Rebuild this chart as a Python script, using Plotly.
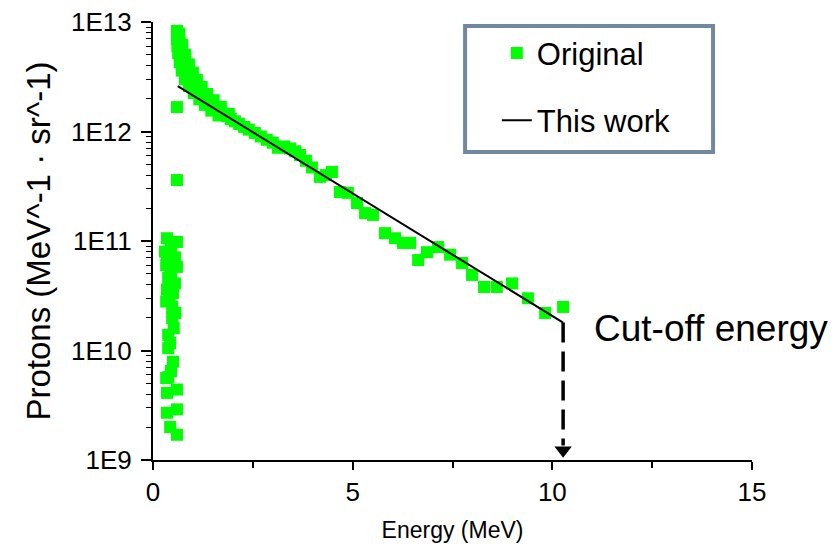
import plotly.graph_objects as go

# ---- data ----
orig_energy = [
    # main band
    0.60, 0.61, 0.62, 0.64, 0.66, 0.68, 0.70, 0.73, 0.76, 0.79, 0.83, 0.87, 0.91, 0.96,
    1.01, 1.06, 1.12, 1.18, 1.25, 1.32, 1.40, 1.48, 1.57, 1.66, 1.75, 1.85, 1.95, 2.05,
    2.16, 2.28, 2.40, 2.55, 2.70, 2.85, 3.00, 3.13, 3.28, 3.43, 3.56, 3.68, 3.83, 3.98,
    4.18, 4.33, 4.48, 4.68, 4.88, 5.11, 5.31, 5.51, 5.81, 6.06, 6.26, 6.44, 6.64, 6.86,
    7.14, 7.44, 7.74, 7.99, 8.29, 8.61, 8.99, 9.39, 9.82, 10.27,
    # outer / inner edges of the dense band
    0.66, 0.73, 0.81, 0.90, 1.00, 1.10, 1.22, 1.36, 1.52, 1.70, 1.90,
    0.60, 0.61, 0.63, 0.67, 0.72, 0.80, 0.90, 1.02, 1.16, 1.30, 1.46, 1.64,
    # low-energy column
    0.60, 0.60,
    0.35, 0.60, 0.35, 0.55, 0.33, 0.60, 0.38, 0.55, 0.35, 0.50, 0.33, 0.48, 0.48, 0.38,
    0.43, 0.38, 0.50, 0.38, 0.33, 0.35, 0.60, 0.35, 0.60, 0.43, 0.60,
    0.45, 0.45, 0.42, 0.52, 0.45, 0.30, 0.56,
]
orig_protons = [
    8.3e12, 7.8e12, 7.3e12, 6.8e12, 6.3e12, 5.9e12, 5.5e12, 5.1e12, 4.7e12, 4.35e12, 4.0e12, 3.7e12, 3.4e12, 3.1e12,
    2.85e12, 2.6e12, 2.4e12, 2.2e12, 2.05e12, 1.93e12, 1.8e12, 1.7e12, 1.6e12, 1.52e12, 1.45e12, 1.38e12, 1.3e12, 1.24e12,
    1.17e12, 1.1e12, 1.04e12, 9.7e11, 9.0e11, 8.4e11, 7.9e11, 7.1e11, 7.3e11, 7.0e11, 6.6e11, 6.1e11, 5.4e11, 4.7e11,
    3.85e11, 4.0e11, 4.27e11, 2.8e11, 2.75e11, 2.22e11, 1.8e11, 1.73e11, 1.18e11, 1.06e11, 9.6e10, 9.6e10, 6.7e10, 7.9e10,
    8.8e10, 7.5e10, 6.3e10, 4.9e10, 3.8e10, 3.8e10, 4.1e10, 3.0e10, 2.2e10, 2.5e10,
    7.8e12, 6.2e12, 5.0e12, 4.1e12, 3.45e12, 2.95e12, 2.55e12, 2.2e12, 1.93e12, 1.68e12, 1.45e12,
    7.0e12, 6.0e12, 5.2e12, 4.3e12, 3.6e12, 3.0e12, 2.6e12, 2.25e12, 1.97e12, 1.75e12, 1.55e12, 1.4e12,
    1.67e12, 3.6e11,
    1.06e11, 9.8e10, 7.4e10, 7.1e10, 6.0e10, 5.8e10, 4.6e10, 4.1e10, 3.6e10, 3.35e10, 2.8e10, 2.5e10, 1.98e10, 1.39e10,
    1.17e10, 1.05e10, 7.9e9, 5.7e9, 5.6e9, 4.1e9, 4.4e9, 2.7e9, 2.9e9, 2.0e9, 1.7e9,
    8.5e10, 5.0e10, 3.0e10, 1.6e10, 6.5e9, 8.0e10, 2.2e10,
]

fit_energy = [0.62, 10.27]
fit_protons = [2.6e12, 1.8e10]

cutoff_energy = 10.27
cutoff_protons = 1.8e10
arrow_tip_protons = 1.23e9

y_tick_vals = [1e9, 1e10, 1e11, 1e12, 1e13]
y_tick_text = ["1E9", "1E10", "1E11", "1E12", "1E13"]
x_tick_vals = [0, 5, 10, 15]
x_minor_vals = [2.5, 7.5, 12.5]
y_minor_vals = [m * d for d in [1e9, 1e10, 1e11, 1e12] for m in range(2, 10)]

FONT = "Arial, Liberation Sans, sans-serif"
GREEN = "#00FF00"

fig = go.Figure()

fig.add_trace(go.Scatter(
    x=orig_energy, y=orig_protons, mode="markers", name="Original",
    legendgroup="a",
    marker=dict(symbol="square", size=12, color=GREEN, line=dict(width=0)),
))
fig.add_trace(go.Scatter(
    x=fit_energy, y=fit_protons, mode="lines", name="This work",
    legendgroup="b",
    line=dict(color="black", width=2),
))
# dashed cut-off arrow
fig.add_trace(go.Scatter(
    x=[cutoff_energy, cutoff_energy], y=[cutoff_protons, arrow_tip_protons * 1.1],
    mode="lines", showlegend=False, hoverinfo="skip",
    line=dict(color="black", width=3.5, dash="20px,9px"),
    cliponaxis=False,
))
fig.add_trace(go.Scatter(
    x=[cutoff_energy], y=[arrow_tip_protons],
    mode="markers", showlegend=False, hoverinfo="skip",
    marker=dict(symbol="triangle-down", size=15, color="black"),
    cliponaxis=False,
))

fig.add_annotation(
    x=11.0, y=10.205, xref="x", yref="y", text="Cut-off energy",
    showarrow=False, xanchor="left", yanchor="middle",
    font=dict(family=FONT, size=37, color="black"),
)

# legend frame
fig.add_shape(
    type="rect", xref="paper", yref="paper",
    x0=0.521, x1=0.935, y0=0.703, y1=0.991,
    line=dict(color="#7189A0", width=4), fillcolor="rgba(0,0,0,0)",
)

fig.update_layout(
    width=836, height=552,
    margin=dict(l=145, r=92, t=14, b=100, autoexpand=False),
    paper_bgcolor="white", plot_bgcolor="white",
    font=dict(family=FONT, color="black", size=22),
    showlegend=True,
    legend=dict(
        x=0.574, y=0.99, xanchor="left", yanchor="top",
        traceorder="grouped", tracegroupgap=24,
        font=dict(family=FONT, size=31, color="black"),
        bgcolor="rgba(0,0,0,0)", borderwidth=0,
    ),
    xaxis=dict(
        range=[0, 15], showgrid=False, zeroline=False, automargin=False,
        showline=True, linecolor="black", linewidth=2,
        ticks="outside", ticklen=8, tickwidth=1.5, tickcolor="black",
        tickvals=x_tick_vals, ticklabeloverflow="allow",
        tickfont=dict(family=FONT, size=26),
        minor=dict(tickvals=x_minor_vals, ticks="outside", ticklen=6, tickwidth=1.5, tickcolor="black"),
        title=dict(text="Energy (MeV)", font=dict(family=FONT, size=23), standoff=16),
    ),
    yaxis=dict(
        type="log", range=[9, 13], showgrid=False, zeroline=False, automargin=False,
        showline=True, linecolor="black", linewidth=2,
        ticks="outside", ticklen=10, tickwidth=1.5, tickcolor="black",
        tickvals=y_tick_vals, ticktext=y_tick_text, ticklabeloverflow="allow",
        ticklabelstandoff=4,
        tickfont=dict(family=FONT, size=26),
        minor=dict(tickvals=y_minor_vals, ticks="outside", ticklen=5, tickwidth=1.2, tickcolor="black"),
        title=dict(text="Protons (MeV^-1 · sr^-1)", font=dict(family=FONT, size=33), standoff=11),
    ),
)

fig.write_html("out.html")
